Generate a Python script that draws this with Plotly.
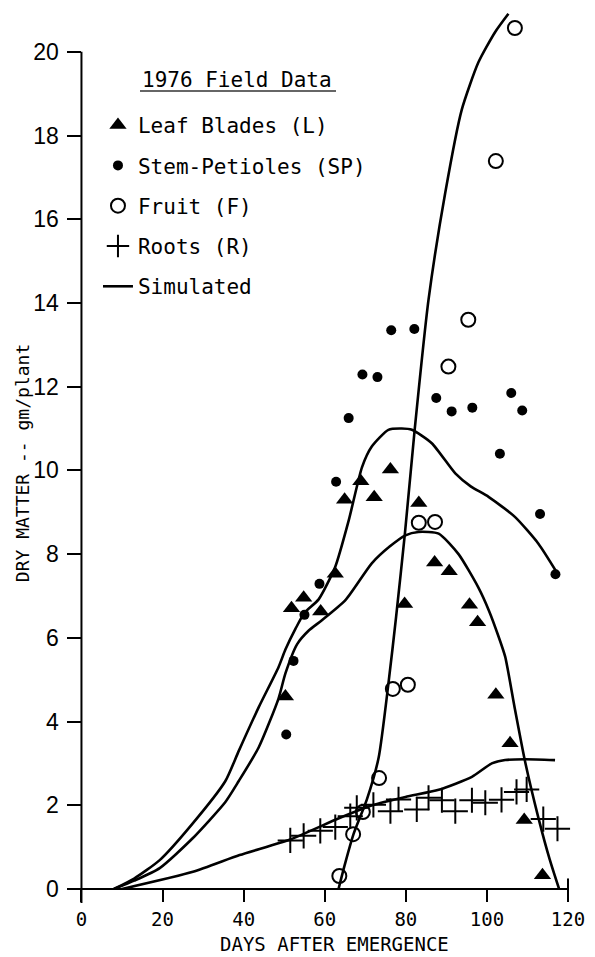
import plotly.graph_objects as go

# ---- Field data (days after emergence, dry matter gm/plant) ----
leaf_day = [50.3, 51.8, 54.8, 59.0, 62.6, 64.9, 68.9, 72.2, 76.2, 79.7, 83.2, 87.1, 90.7,
            95.7, 97.7, 102.2, 105.7, 109.2, 113.7]
leaf_dm = [4.60, 6.71, 6.96, 6.63, 7.53, 9.30, 9.74, 9.36, 10.02, 6.81, 9.22, 7.80, 7.59,
           6.79, 6.37, 4.64, 3.48, 1.65, 0.33]

stem_day = [50.5, 52.3, 55.0, 58.7, 62.8, 65.9, 69.3, 73.0, 76.4, 82.1, 87.5, 91.3, 96.4,
            103.2, 106.0, 108.7, 113.1, 116.9]
stem_dm = [3.69, 5.45, 6.55, 7.29, 9.73, 11.25, 12.29, 12.23, 13.35, 13.38, 11.73, 11.41,
           11.50, 10.40, 11.85, 11.43, 8.96, 7.52]

fruit_day = [63.6, 67.0, 69.4, 73.4, 76.8, 80.5, 83.2, 87.2, 90.5, 95.4, 102.2, 106.9]
fruit_dm = [0.31, 1.31, 1.84, 2.65, 4.78, 4.88, 8.75, 8.77, 12.48, 13.60, 17.39, 20.57]

root_day = [51.5, 54.8, 58.9, 62.6, 66.3, 67.9, 72.0, 76.2, 78.2, 82.7, 85.6, 88.9, 92.2,
            96.3, 99.6, 103.6, 107.3, 109.8, 113.9, 117.4]
root_dm = [1.16, 1.27, 1.39, 1.48, 1.74, 1.94, 2.01, 1.86, 2.14, 1.90, 2.18, 2.12, 1.86,
           2.12, 2.06, 2.13, 2.32, 2.38, 1.67, 1.44]

# ---- Simulated curves ----
sim_leaf_day = [8, 13, 19.3, 27.3, 35.5, 38.8, 43.7, 48.6, 50.3, 53.2, 56.0, 59.3, 65.1,
                71.6, 76.0, 79.9, 83.1, 88.1, 93.0, 97.9, 100.5, 102.8, 104.5, 106.9,
                109.4, 112.7, 115.5, 117.8]
sim_leaf_dm = [0.0, 0.2, 0.5, 1.2, 2.08, 2.58, 3.38, 4.55, 5.15, 5.85, 6.17, 6.42, 6.9,
               7.78, 8.18, 8.45, 8.53, 8.49, 8.0, 7.2, 6.65, 6.05, 5.55, 4.3, 3.05, 1.7,
               0.7, 0.0]

sim_stem_day = [8, 13, 19.3, 27.3, 35.5, 38.8, 43.7, 48.6, 50.3, 52.8, 55.0, 58.5, 62.6,
                65.9, 69.2, 71.6, 75.7, 79.0, 81.5, 86.4, 92.2, 96.0, 100.4, 106.9, 112.7,
                117.2]
sim_stem_dm = [0.0, 0.25, 0.69, 1.55, 2.58, 3.3, 4.34, 5.3, 5.72, 6.22, 6.6, 6.92, 7.7,
               8.8, 10.08, 10.57, 10.97, 11.0, 10.97, 10.65, 9.93, 9.62, 9.37, 8.89, 8.25,
               7.57]

sim_fruit_day = [63.4, 65.0, 67.1, 70.4, 73.3, 75.7, 77.6, 79.8, 82.2, 85.6, 89.7, 93.8,
                 97.9, 102.0, 105.3]
sim_fruit_dm = [0.0, 0.6, 1.31, 2.14, 3.14, 4.9, 6.5, 8.52, 10.99, 14.08, 16.62, 18.62,
                19.75, 20.47, 20.91]

sim_root_day = [10, 27.5, 39.0, 51.6, 63.5, 71.7, 79.9, 88.1, 96.3, 101.2, 104.5, 109.4,
                116.8]
sim_root_dm = [0.0, 0.41, 0.81, 1.19, 1.69, 2.0, 2.2, 2.37, 2.68, 3.0, 3.08, 3.1, 3.08]

x_ticks = [0, 20, 40, 60, 80, 100, 120]
y_ticks = [0, 2, 4, 6, 8, 10, 12, 14, 16, 18, 20]

legend_title = "1976 Field Data"
x_title = "DAYS AFTER EMERGENCE"
y_title = "DRY MATTER -- gm/plant"

XMIN, XMAX = -3.32, 121.97
YMIN, YMAX = 0, 21.0

MONO = "DejaVu Sans Mono"
BLACK = "#000000"

fig = go.Figure()

line_style = dict(color=BLACK, width=2.6, shape="spline", smoothing=0.6)

fig.add_trace(go.Scatter(x=leaf_day, y=leaf_dm, mode="markers", name="Leaf Blades (L)",
                         legendgroup="a",
                         marker=dict(symbol="triangle-up", size=15, color=BLACK), cliponaxis=False))
fig.add_trace(go.Scatter(x=stem_day, y=stem_dm, mode="markers", name="Stem-Petioles (SP)",
                         legendgroup="b",
                         marker=dict(symbol="circle", size=10, color=BLACK), cliponaxis=False))
fig.add_trace(go.Scatter(x=fruit_day, y=fruit_dm, mode="markers", name="Fruit (F)",
                         legendgroup="c",
                         marker=dict(symbol="circle-open", size=14, color=BLACK,
                                     line=dict(width=2, color=BLACK)), cliponaxis=False))
fig.add_trace(go.Scatter(x=root_day, y=root_dm, mode="markers", name="Roots (R)",
                         legendgroup="d",
                         marker=dict(symbol="cross-thin-open", size=18, color=BLACK,
                                     line=dict(width=2, color=BLACK)), cliponaxis=False))
fig.add_trace(go.Scatter(x=sim_stem_day, y=sim_stem_dm, mode="lines", name="Simulated",
                         legendgroup="e", line=line_style, cliponaxis=False))
fig.add_trace(go.Scatter(x=sim_leaf_day, y=sim_leaf_dm, mode="lines", showlegend=False,
                         line=line_style, cliponaxis=False))
fig.add_trace(go.Scatter(x=sim_fruit_day, y=sim_fruit_dm, mode="lines", showlegend=False,
                         line=line_style, cliponaxis=False))
fig.add_trace(go.Scatter(x=sim_root_day, y=sim_root_dm, mode="lines", showlegend=False,
                         line=line_style, cliponaxis=False))


def xp(v):
    return (v - XMIN) / (XMAX - XMIN)


def yp(v):
    return (v - YMIN) / (YMAX - YMIN)


shapes = [
    # x axis line
    dict(type="line", xref="paper", yref="paper", x0=0, x1=xp(120), y0=0, y1=0,
         line=dict(color=BLACK, width=2)),
    # right end tick crossing the axis
    dict(type="line", xref="paper", yref="paper", x0=xp(120), x1=xp(120), y0=-0.012, y1=0.012,
         line=dict(color=BLACK, width=2)),
    # y axis line
    dict(type="line", xref="paper", yref="paper", x0=xp(0), x1=xp(0), y0=-0.016, y1=yp(20),
         line=dict(color=BLACK, width=2)),
    # underline of legend heading
    dict(type="line", xref="paper", yref="paper", x0=0.1417, x1=0.5276, y0=0.9078, y1=0.9078,
         line=dict(color="#333333", width=1.6)),
]

annotations = [
    dict(text=legend_title, xref="paper", yref="paper", x=0.3327, y=0.9204,
         xanchor="center", yanchor="middle", showarrow=False,
         font=dict(family=MONO, size=21, color=BLACK)),
    dict(text=x_title, xref="paper", yref="paper", x=(336 - 68) / 510, y=(889 - 944) / 879,
         xanchor="center", yanchor="middle", showarrow=False,
         font=dict(family=MONO, size=19, color=BLACK)),
    dict(text=y_title, xref="paper", yref="paper", x=(22 - 68) / 510, y=(889 - 463) / 879,
         xanchor="center", yanchor="middle", showarrow=False, textangle=-90,
         font=dict(family=MONO, size=18, color=BLACK)),
]

fig.update_layout(
    width=595, height=957,
    margin=dict(l=68, r=17, t=10, b=68),
    paper_bgcolor="white", plot_bgcolor="white",
    showlegend=True,
    legend=dict(x=0.059, y=0.892, xanchor="left", yanchor="top",
                font=dict(family=MONO, size=21, color=BLACK),
                bgcolor="rgba(0,0,0,0)", borderwidth=0, tracegroupgap=10,
                traceorder="grouped"),
    shapes=shapes,
    annotations=annotations,
    xaxis=dict(range=[XMIN, XMAX], tickvals=x_ticks, ticktext=[str(v) for v in x_ticks],
               ticks="outside", ticklen=12, tickwidth=2, tickcolor=BLACK,
               showline=False, showgrid=False, zeroline=False,
               tickfont=dict(family=MONO, size=19, color=BLACK), ticklabelstandoff=1),
    yaxis=dict(range=[YMIN, YMAX], tickvals=y_ticks, ticktext=[str(v) for v in y_ticks],
               anchor="free", position=xp(0),
               ticks="outside", ticklen=14, tickwidth=2, tickcolor=BLACK,
               showline=False, showgrid=False, zeroline=False,
               tickfont=dict(family="Liberation Sans Narrow, Liberation Sans", size=23,
                             color=BLACK), ticklabelstandoff=4),
)

fig.write_html("out.html")
